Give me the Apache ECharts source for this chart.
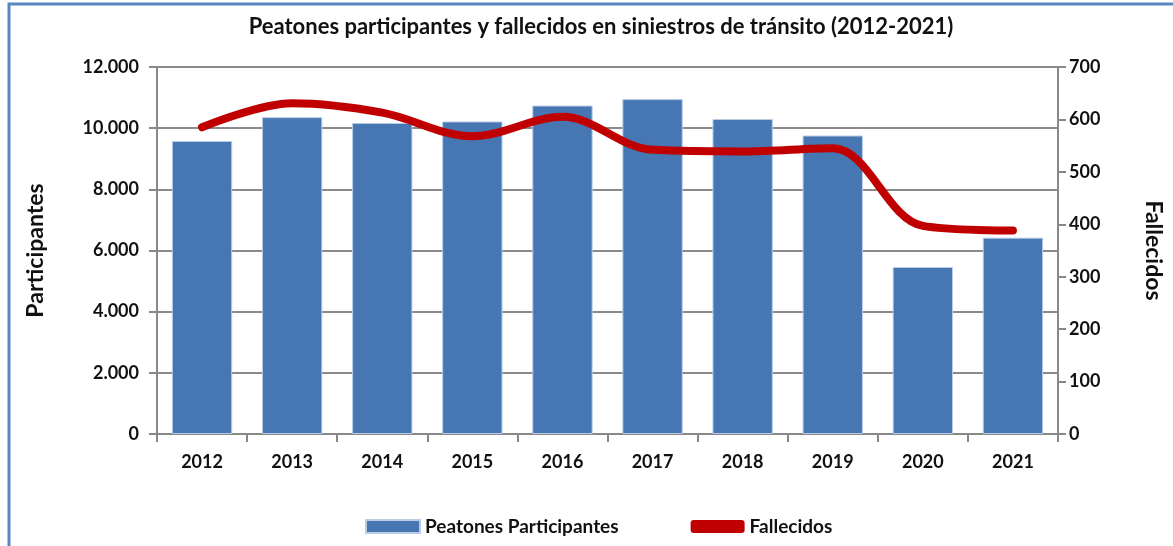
<!DOCTYPE html>
<html>
<head>
<meta charset="utf-8">
<script src="https://cdn.jsdelivr.net/npm/echarts@6/dist/echarts.min.js"></script>
<style>
  html, body { margin: 0; padding: 0; background: #fff; }
  #chartmain { width: 1173px; height: 546px; }
</style>
</head>
<body>
<div id="chartmain"></div>
<script>
  // datos
  var anios = ['2012', '2013', '2014', '2015', '2016', '2017', '2018', '2019', '2020', '2021'];
  var participantes = [9580, 10360, 10170, 10220, 10740, 10950, 10300, 9760, 5460, 6420];
  var fallecidos = [585, 631, 613, 568, 605, 542, 539, 545, 397, 388];
  var ticksIzq = [0, 2000, 4000, 6000, 8000, 10000, 12000];
  var ticksDer = [0, 100, 200, 300, 400, 500, 600, 700];

  var fuente = 'Lato';

  function miles(v) {
    return String(v).replace(/\B(?=(\d{3})+(?!\d))/g, '.');
  }

  var myChart = echarts.init(document.getElementById('chartmain'));

  var option = {
    animation: false,
    textStyle: { fontFamily: fuente },
    title: {
      text: 'Peatones participantes y fallecidos en siniestros de tránsito (2012-2021)',
      left: 596,
      textAlign: 'center',
      top: 11,
      textStyle: { fontSize: 22, fontWeight: 'bold', color: '#111', fontFamily: fuente }
    },
    graphic: [{
      type: 'rect',
      shape: { x: 9, y: 4, width: 1200, height: 600 },
      style: { fill: 'none', stroke: '#5a86c0', lineWidth: 3 },
      silent: true
    }],
    legend: {
      bottom: 5,
      left: 360,
      itemGap: 72,
      itemWidth: 54,
      itemHeight: 13,
      textStyle: { fontSize: 19, fontWeight: 'bold', color: '#111', fontFamily: fuente },
      data: [
        { name: 'Peatones Participantes', icon: 'rect' },
        { name: 'Fallecidos', icon: 'roundRect', itemStyle: { color: '#c00000' } }
      ]
    },
    grid: { left: 157, right: 113, top: 67, bottom: 112 },
    xAxis: {
      type: 'category',
      data: anios,
      axisLine: { lineStyle: { color: '#888', width: 2 } },
      axisTick: { show: true, length: 8, lineStyle: { color: '#888', width: 2 } },
      axisLabel: { fontSize: 18, fontWeight: 'bold', color: '#111', margin: 19 }
    },
    yAxis: [{
      type: 'value',
      min: 0,
      max: 12000,
      interval: 2000,
      name: 'Participantes',
      nameLocation: 'middle',
      nameGap: 110,
      nameRotate: 90,
      nameTextStyle: { fontSize: 23, fontWeight: 'bold', color: '#111' },
      axisLine: { show: true, lineStyle: { color: '#888', width: 2 } },
      axisTick: { show: true, length: 8, lineStyle: { color: '#888', width: 2 } },
      splitLine: { lineStyle: { color: '#8a8a8a', width: 2 } },
      axisLabel: {
        fontSize: 18, fontWeight: 'bold', color: '#111', margin: 18,
        customValues: ticksIzq,
        formatter: function (v) { return miles(v); }
      }
    }, {
      type: 'value',
      min: 0,
      max: 700,
      interval: 100,
      name: 'Fallecidos',
      nameLocation: 'middle',
      nameGap: 84,
      nameRotate: -90,
      nameTextStyle: { fontSize: 23, fontWeight: 'bold', color: '#111' },
      axisLine: { show: true, lineStyle: { color: '#888', width: 2 } },
      axisTick: { show: true, inside: false, length: 8, lineStyle: { color: '#888', width: 2 } },
      splitLine: { show: false },
      axisLabel: {
        fontSize: 18, fontWeight: 'bold', color: '#111', margin: 11,
        customValues: ticksDer
      }
    }],
    series: [{
      name: 'Peatones Participantes',
      type: 'bar',
      data: participantes,
      barCategoryGap: '33%',
      itemStyle: { color: '#4677b3', borderColor: '#b9cde6', borderWidth: 1 }
    }, {
      name: 'Fallecidos',
      type: 'line',
      yAxisIndex: 1,
      data: fallecidos,
      smooth: 0.35,
      symbol: 'none',
      lineStyle: { color: '#c00000', width: 8, cap: 'round' },
      itemStyle: { color: '#c00000' }
    }]
  };

  myChart.setOption(option);
</script>
</body>
</html>
